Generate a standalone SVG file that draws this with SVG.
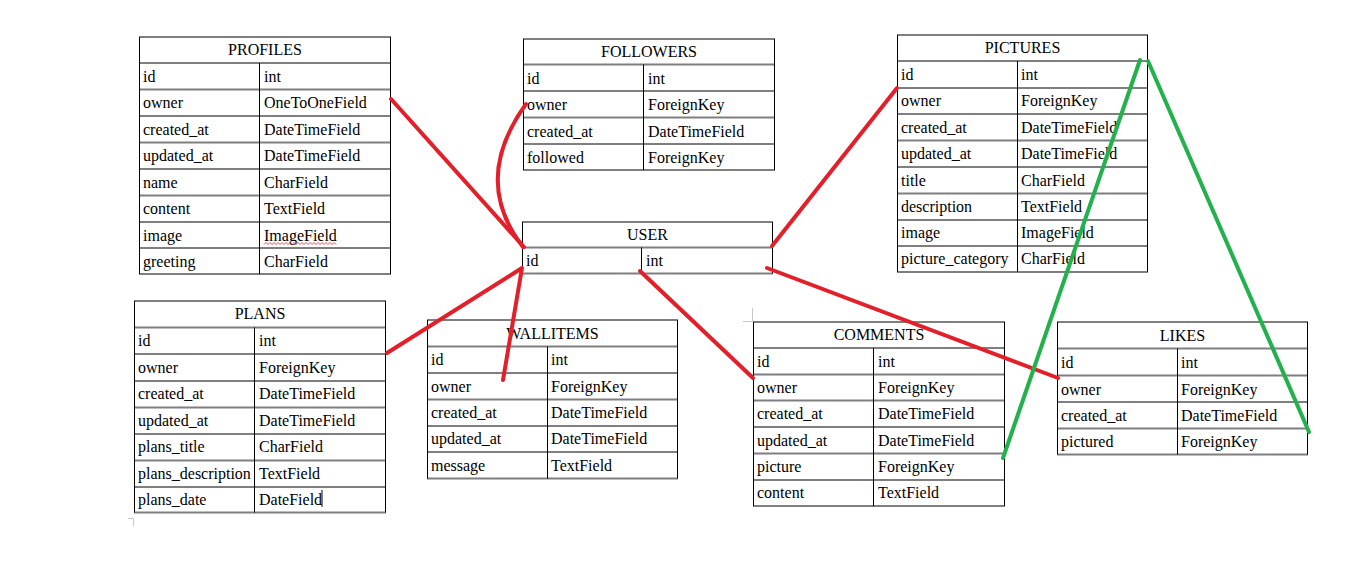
<svg xmlns="http://www.w3.org/2000/svg" width="1360" height="563" viewBox="0 0 1360 563">
<style>
.h{stroke:#7f7f7f;stroke-width:2;fill:none}
.v{stroke:#000;stroke-width:1;fill:none}
.t{font-family:"Liberation Serif","Times New Roman",serif;font-size:16px;fill:#000}
.c{text-anchor:middle}
.red{stroke:#e3202a;stroke-width:4;fill:none;stroke-linecap:round;stroke-linejoin:round}
.grn{stroke:#22b14c;stroke-width:4;fill:none;stroke-linecap:round}
.mk{stroke:#c8c8c8;stroke-width:1;fill:none}
</style>
<rect width="1360" height="563" fill="#fff"/>

<g id="profiles">
<path class="h" d="M139 37H391M139 63H391M139 89.5H391M139 116H391M139 142.5H391M139 169H391M139 195.5H391M139 222H391M139 248H391M139 274H391"/>
<path class="v" d="M139.5 37V274M390.5 37V274M259.5 63V274"/>
<text class="t c" x="265" y="55">PROFILES</text>
<text class="t" x="143" y="81.5">id</text><text class="t" x="264" y="81.5">int</text>
<text class="t" x="143" y="108">owner</text><text class="t" x="264" y="108">OneToOneField</text>
<text class="t" x="143" y="134.5">created_at</text><text class="t" x="264" y="134.5">DateTimeField</text>
<text class="t" x="143" y="161">updated_at</text><text class="t" x="264" y="161">DateTimeField</text>
<text class="t" x="143" y="187.5">name</text><text class="t" x="264" y="187.5">CharField</text>
<text class="t" x="143" y="214">content</text><text class="t" x="264" y="214">TextField</text>
<text class="t" x="143" y="240.5">image</text><text class="t" x="264" y="240.5">ImageField</text>
<text class="t" x="143" y="266.5">greeting</text><text class="t" x="264" y="266.5">CharField</text>
<path d="M264 244.5l2 -2l2 2l2 -2l2 2l2 -2l2 2l2 -2l2 2l2 -2l2 2l2 -2l2 2l2 -2l2 2l2 -2l2 2l2 -2l2 2l2 -2l2 2l2 -2l2 2l2 -2l2 2l2 -2l2 2l2 -2l2 2l2 -2l2 2l2 -2l2 2l2 -2l2 2l2 -2l2 2" stroke="#e3202a" stroke-width="0.8" fill="none"/>
</g>

<g id="followers">
<path class="h" d="M523 39H775M523 64.5H775M523 91H775M523 117.5H775M523 144H775M523 170H775"/>
<path class="v" d="M523.5 39V170M774.5 39V170M643.5 64.5V170"/>
<text class="t c" x="649" y="57">FOLLOWERS</text>
<text class="t" x="527" y="83.5">id</text><text class="t" x="648" y="83.5">int</text>
<text class="t" x="527" y="110">owner</text><text class="t" x="648" y="110">ForeignKey</text>
<text class="t" x="527" y="136.5">created_at</text><text class="t" x="648" y="136.5">DateTimeField</text>
<text class="t" x="527" y="163">followed</text><text class="t" x="648" y="163">ForeignKey</text>
</g>

<g id="pictures">
<path class="h" d="M897 35H1148M897 61H1148M897 88H1148M897 114H1148M897 140.5H1148M897 167H1148M897 193.5H1148M897 220H1148M897 246H1148M897 272H1148"/>
<path class="v" d="M897.5 35V272M1147.5 35V272M1017.5 61V272"/>
<text class="t c" x="1022.5" y="53">PICTURES</text>
<text class="t" x="901" y="79.5">id</text><text class="t" x="1021" y="79.5">int</text>
<text class="t" x="901" y="106">owner</text><text class="t" x="1021" y="106">ForeignKey</text>
<text class="t" x="901" y="132.5">created_at</text><text class="t" x="1021" y="132.5">DateTimeField</text>
<text class="t" x="901" y="159">updated_at</text><text class="t" x="1021" y="159">DateTimeField</text>
<text class="t" x="901" y="185.5">title</text><text class="t" x="1021" y="185.5">CharField</text>
<text class="t" x="901" y="212">description</text><text class="t" x="1021" y="212">TextField</text>
<text class="t" x="901" y="238">image</text><text class="t" x="1021" y="238">ImageField</text>
<text class="t" x="901" y="264">picture_category</text><text class="t" x="1021" y="264">CharField</text>
</g>

<g id="user">
<path class="h" d="M522 222H773M522 247.5H773M522 273.5H773"/>
<path class="v" d="M522.5 222V273.5M772.5 222V273.5M641.5 247.5V273.5"/>
<text class="t c" x="647.5" y="240">USER</text>
<text class="t" x="526" y="266">id</text><text class="t" x="646" y="266">int</text>
</g>

<g id="plans">
<path class="h" d="M134 301H386M134 327.5H386M134 354H386M134 381H386M134 407.5H386M134 434H386M134 460.5H386M134 487H386M134 512.5H386"/>
<path class="v" d="M134.5 301V512.5M385.5 301V512.5M254.5 327.5V512.5"/>
<text class="t c" x="260" y="319">PLANS</text>
<text class="t" x="138" y="346">id</text><text class="t" x="259" y="346">int</text>
<text class="t" x="138" y="372.5">owner</text><text class="t" x="259" y="372.5">ForeignKey</text>
<text class="t" x="138" y="399">created_at</text><text class="t" x="259" y="399">DateTimeField</text>
<text class="t" x="138" y="425.5">updated_at</text><text class="t" x="259" y="425.5">DateTimeField</text>
<text class="t" x="138" y="452">plans_title</text><text class="t" x="259" y="452">CharField</text>
<text class="t" x="138" y="478.5">plans_description</text><text class="t" x="259" y="478.5">TextField</text>
<text class="t" x="138" y="504.5">plans_date</text><text class="t" x="259" y="504.5">DateField</text>
<path d="M322 490V507" stroke="#000" stroke-width="1"/>
</g>

<g id="wallitems">
<path class="h" d="M427 320H678M427 346.5H678M427 373H678M427 399.5H678M427 426H678M427 452H678M427 478.5H678"/>
<path class="v" d="M427.5 320V478.5M677.5 320V478.5M547.5 346.5V478.5"/>
<text class="t c" x="552.5" y="339">WALLITEMS</text>
<text class="t" x="431" y="365">id</text><text class="t" x="551" y="365">int</text>
<text class="t" x="431" y="391.5">owner</text><text class="t" x="551" y="391.5">ForeignKey</text>
<text class="t" x="431" y="418">created_at</text><text class="t" x="551" y="418">DateTimeField</text>
<text class="t" x="431" y="444">updated_at</text><text class="t" x="551" y="444">DateTimeField</text>
<text class="t" x="431" y="470.5">message</text><text class="t" x="551" y="470.5">TextField</text>
</g>

<g id="comments">
<path class="h" d="M753 322H1005M753 348H1005M753 374.5H1005M753 400.5H1005M753 427H1005M753 453.5H1005M753 480H1005M753 506H1005"/>
<path class="v" d="M753.5 322V506M1004.5 322V506M873.5 348V506"/>
<text class="t c" x="879" y="340">COMMENTS</text>
<text class="t" x="757" y="366.5">id</text><text class="t" x="878" y="366.5">int</text>
<text class="t" x="757" y="393">owner</text><text class="t" x="878" y="393">ForeignKey</text>
<text class="t" x="757" y="419">created_at</text><text class="t" x="878" y="419">DateTimeField</text>
<text class="t" x="757" y="445.5">updated_at</text><text class="t" x="878" y="445.5">DateTimeField</text>
<text class="t" x="757" y="472">picture</text><text class="t" x="878" y="472">ForeignKey</text>
<text class="t" x="757" y="498">content</text><text class="t" x="878" y="498">TextField</text>
</g>

<g id="likes">
<path class="h" d="M1057 322H1308M1057 348.5H1308M1057 375.5H1308M1057 402H1308M1057 428.5H1308M1057 454.5H1308"/>
<path class="v" d="M1057.5 322V454.5M1307.5 322V454.5M1177.5 348.5V454.5"/>
<text class="t c" x="1182.5" y="341">LIKES</text>
<text class="t" x="1061" y="368">id</text><text class="t" x="1181" y="368">int</text>
<text class="t" x="1061" y="394.5">owner</text><text class="t" x="1181" y="394.5">ForeignKey</text>
<text class="t" x="1061" y="421">created_at</text><text class="t" x="1181" y="421">DateTimeField</text>
<text class="t" x="1061" y="447">pictured</text><text class="t" x="1181" y="447">ForeignKey</text>
</g>

<g id="marks">
<path class="mk" d="M128 518.5H133.5V526M743 321.5H752.5V308"/>
</g>

<g id="connectors">
<path class="red" d="M391 99L524 247"/>
<path class="red" d="M526 104Q471 180 523 247"/>
<path class="red" d="M897 88L772 246"/>
<path class="red" d="M387 353L522 268L503 380"/>
<path class="red" d="M640 271L753 378"/>
<path class="red" d="M767 268L1058 378"/>
<path class="grn" d="M1140 60L1003 458"/>
<path class="grn" d="M1148 61L1309 432"/>
</g>
</svg>
